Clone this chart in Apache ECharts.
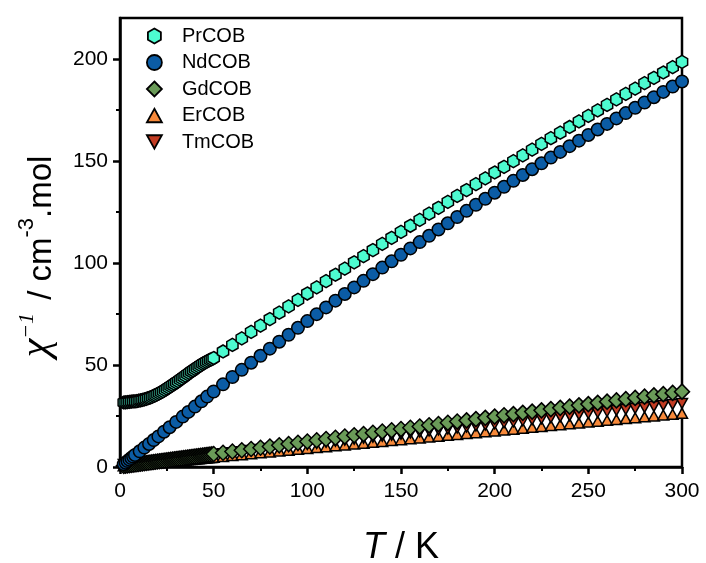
<!DOCTYPE html>
<html>
<head>
<meta charset="utf-8">
<script src="https://cdn.jsdelivr.net/npm/echarts@6/dist/echarts.min.js"></script>
<style>html,body{margin:0;padding:0;background:#fff}#c{width:706px;height:563px}</style>
</head>
<body>
<div id="c"></div>
<script>
// ---- data (T in K, chi^-1 in cm^-3.mol) ----
var tLow = [2,3,4,5,6,7,8,9,10,11,12,13,14,15,16,17,18,19,20,21,22,23,24,25,26,27,28,29,30,31,32,33,34,35,36,37,38,39,40,41,42,43,44,45,46,47,48,49];
var tHigh = [50,55,60,65,70,75,80,85,90,95,100,105,110,115,120,125,130,135,140,145,150,155,160,165,170,175,180,185,190,195,200,205,210,215,220,225,230,235,240,245,250,255,260,265,270,275,280,285,290,295,300];
var tNdLow = [2,3,4,5,6,7,8,10.5,13,15.5,18,20.5,23.5,26.5,30,33.5,36.5,40,43.5,46.5];

var prLow = [31.6,31.7,31.8,31.9,32.0,32.1,32.2,32.3,32.5,32.7,32.9,33.1,33.4,33.7,34.0,34.4,34.8,35.2,35.7,36.2,36.7,37.2,37.8,38.4,39.0,39.6,40.2,40.8,41.5,42.1,42.8,43.4,44.1,44.8,45.5,46.1,46.8,47.4,48.1,48.7,49.3,49.9,50.5,51.0,51.5,52.0,52.5,52.9];
var prHigh = [53.4,56.6,59.8,63.0,66.2,69.3,72.5,75.6,78.7,81.9,85.0,88.0,91.1,94.2,97.2,100.3,103.3,106.3,109.3,112.3,115.2,118.2,121.1,124.1,127.0,129.9,132.8,135.7,138.6,141.4,144.3,147.1,149.9,152.7,155.5,158.3,161.1,163.8,166.6,169.3,172.0,174.7,177.4,180.1,182.8,185.4,188.1,190.7,193.3,195.9,198.5];

var ndLow = [1.4,2.1,2.9,3.6,4.4,5.1,5.9,7.7,9.5,11.3,13.2,15.0,17.3,19.5,22.1,24.7,27.0,29.6,32.2,34.5];
var ndHigh = [37.0,40.5,44.1,47.6,51.1,54.5,58.0,61.4,64.8,68.2,71.5,74.9,78.2,81.5,84.8,88.0,91.2,94.5,97.7,100.8,104.0,107.1,110.2,113.3,116.4,119.4,122.5,125.5,128.5,131.4,134.4,137.3,140.2,143.1,145.9,148.8,151.6,154.4,157.2,159.9,162.7,165.4,168.1,170.8,173.4,176.0,178.6,181.2,183.8,186.4,188.9];

var gdLow = [0.49,0.61,0.73,0.86,0.98,1.1,1.22,1.34,1.47,1.59,1.71,1.83,1.96,2.08,2.2,2.32,2.44,2.57,2.69,2.81,2.93,3.06,3.18,3.3,3.42,3.55,3.67,3.79,3.91,4.03,4.16,4.28,4.4,4.52,4.65,4.77,4.89,5.01,5.13,5.26,5.38,5.5,5.62,5.75,5.87,5.99,6.11,6.23];
var gdHigh = [6.36,6.97,7.58,8.19,8.8,9.41,10.02,10.64,11.25,11.86,12.47,13.08,13.69,14.3,14.91,15.53,16.14,16.75,17.36,17.97,18.58,19.19,19.8,20.42,21.03,21.64,22.25,22.86,23.47,24.08,24.69,25.31,25.92,26.53,27.14,27.75,28.36,28.97,29.58,30.2,30.81,31.42,32.03,32.64,33.25,33.86,34.47,35.09,35.7,36.31,36.92];

var erLow = [0.6,0.69,0.78,0.86,0.95,1.03,1.12,1.21,1.29,1.38,1.47,1.55,1.64,1.72,1.81,1.9,1.98,2.07,2.16,2.24,2.33,2.41,2.5,2.59,2.67,2.76,2.84,2.93,3.02,3.1,3.19,3.28,3.36,3.45,3.53,3.62,3.71,3.79,3.88,3.97,4.05,4.14,4.22,4.31,4.4,4.48,4.57,4.66];
var erHigh = [4.74,5.17,5.6,6.03,6.47,6.9,7.33,7.76,8.19,8.62,9.05,9.48,9.91,10.34,10.78,11.21,11.64,12.07,12.5,12.93,13.36,13.79,14.22,14.66,15.09,15.52,15.95,16.38,16.81,17.24,17.67,18.1,18.53,18.97,19.4,19.83,20.26,20.69,21.12,21.55,21.98,22.41,22.84,23.28,23.71,24.14,24.57,25.0,25.43,25.86,26.29];

var tmLow = [1.21,1.31,1.41,1.51,1.61,1.71,1.81,1.91,2.01,2.11,2.21,2.31,2.41,2.52,2.62,2.72,2.82,2.92,3.02,3.12,3.22,3.32,3.42,3.52,3.62,3.72,3.82,3.92,4.02,4.12,4.23,4.33,4.43,4.53,4.63,4.73,4.83,4.93,5.03,5.13,5.23,5.33,5.43,5.53,5.63,5.73,5.84,5.94];
var tmHigh = [6.04,6.54,7.04,7.55,8.05,8.55,9.05,9.56,10.06,10.56,11.07,11.57,12.07,12.58,13.08,13.58,14.08,14.59,15.09,15.59,16.1,16.6,17.1,17.61,18.11,18.61,19.11,19.62,20.12,20.62,21.13,21.63,22.13,22.64,23.14,23.64,24.14,24.65,25.15,25.65,26.16,26.66,27.16,27.67,28.17,28.67,29.17,29.68,30.18,30.68,31.19];

var seriesNames = ['PrCOB','NdCOB','GdCOB','ErCOB','TmCOB'];
var xTicks = [0,50,100,150,200,250,300];
var yTicks = [0,50,100,150,200];
var yMinorTicks = [25,75,125,175];

function pairs(ts, vs){ var out=[]; for(var i=0;i<ts.length;i++){ out.push([ts[i], vs[i]]); } return out; }

var HEX = 'path://M0,-1L0.866,-0.5L0.866,0.5L0,1L-0.866,0.5L-0.866,-0.5Z';
var TRI_UP = 'path://M0,-1L1,0.8L-1,0.8Z';
var TRI_DOWN = 'path://M-1,-0.8L1,-0.8L0,1Z';
var SANS = '"Liberation Sans", Arial, sans-serif';
var SERIF = '"Liberation Serif", "Times New Roman", serif';
var symbols = [HEX, 'circle', 'diamond', TRI_UP, TRI_DOWN];

function mk(name, data, symbol, size, color, z){
  return {
    name: name, type: 'scatter', data: data, symbol: symbol, symbolSize: size,
    symbolKeepAspect: true, z: z,
    itemStyle: { color: color, borderColor: '#000', borderWidth: 1.5, opacity: 1 },
    emphasis: { disabled: true }, animation: false
  };
}

var chart = echarts.init(document.getElementById('c'), null, { renderer: 'canvas' });
chart.setOption({
  animation: false,
  backgroundColor: '#fff',
  grid: { left: 120, right: 24, top: 18, bottom: 96, containLabel: false, outerBoundsMode: 'none',
          show: true, borderColor: '#000', borderWidth: 2.5, backgroundColor: 'transparent' },
  legend: {
    orient: 'vertical', left: 141, top: 21, itemWidth: 15, itemHeight: 15, itemGap: 6.5,
    data: seriesNames.map(function(n, i){ return { name: n, icon: symbols[i] }; }),
    itemStyle: { borderColor: '#000', borderWidth: 1.8 },
    textStyle: { fontFamily: SANS, fontSize: 20, color: '#000', padding: [0,0,0,15] }
  },
  xAxis: {
    type: 'value', min: 0, max: 300, interval: 50,
    axisLine: { show: true, onZero: false, lineStyle: { color: '#000', width: 2.5 } },
    axisTick: { show: true, inside: false, length: 7, lineStyle: { color: '#000', width: 2.5 }, customValues: xTicks },
    minorTick: { show: true, splitNumber: 2, length: 4, lineStyle: { color: '#000', width: 2 } },
    splitLine: { show: false },
    axisLabel: { fontFamily: SANS, fontSize: 21, color: '#000', margin: 14, customValues: xTicks },
    name: '{i|T}{n| / K}', nameLocation: 'middle', nameGap: 63,
    nameTextStyle: { rich: {
      i: { fontFamily: SANS, fontStyle: 'italic', fontSize: 36, color: '#000' },
      n: { fontFamily: SANS, fontSize: 36, color: '#000' }
    } }
  },
  yAxis: [{
    type: 'value', min: 0, max: 220, interval: 50,
    axisLine: { show: true, onZero: false, lineStyle: { color: '#000', width: 2.5 } },
    axisTick: { show: true, inside: false, length: 7, lineStyle: { color: '#000', width: 2.5 }, customValues: yTicks },
    splitLine: { show: false },
    axisLabel: { fontFamily: SANS, fontSize: 21, color: '#000', margin: 12, customValues: yTicks },
    name: '{c|χ}{s|−1}{n| / cm}{t|-3}{n|.mol}', nameLocation: 'middle', nameGap: 62,
    nameTextStyle: { padding: [0, 28, 0, 0], rich: {
      c: { fontFamily: SERIF, fontStyle: 'italic', fontSize: 42, color: '#000', verticalAlign: 'bottom' },
      s: { fontFamily: SERIF, fontStyle: 'italic', fontSize: 22, color: '#000', verticalAlign: 'top', padding: [0, 4, 0, 0] },
      n: { fontFamily: SANS, fontSize: 33, color: '#000', verticalAlign: 'bottom' },
      t: { fontFamily: SANS, fontSize: 22, color: '#000', verticalAlign: 'top' }
    } }
  }, {
    type: 'value', min: 0, max: 220, position: 'left',
    axisLine: { show: false },
    axisTick: { show: true, inside: false, length: 4, lineStyle: { color: '#000', width: 2 }, customValues: yMinorTicks },
    axisLabel: { show: false },
    splitLine: { show: false }
  }],
  series: [
    mk('PrCOB', pairs(tLow, prLow).concat(pairs(tHigh, prHigh)), HEX, 13, '#4DFBD0', 6),
    mk('NdCOB', pairs(tNdLow, ndLow).concat(pairs(tHigh, ndHigh)), 'circle', 12.5, '#0B5CA5', 5),
    mk('GdCOB', pairs(tLow, gdLow).concat(pairs(tHigh, gdHigh)), 'diamond', 15, '#6A9B58', 4),
    mk('ErCOB', pairs(tLow, erLow).concat(pairs(tHigh, erHigh)), TRI_UP, 11, '#F7893A', 2),
    mk('TmCOB', pairs(tLow, tmLow).concat(pairs(tHigh, tmHigh)), TRI_DOWN, 11, '#C23B22', 3)
  ]
});
</script>
</body>
</html>
